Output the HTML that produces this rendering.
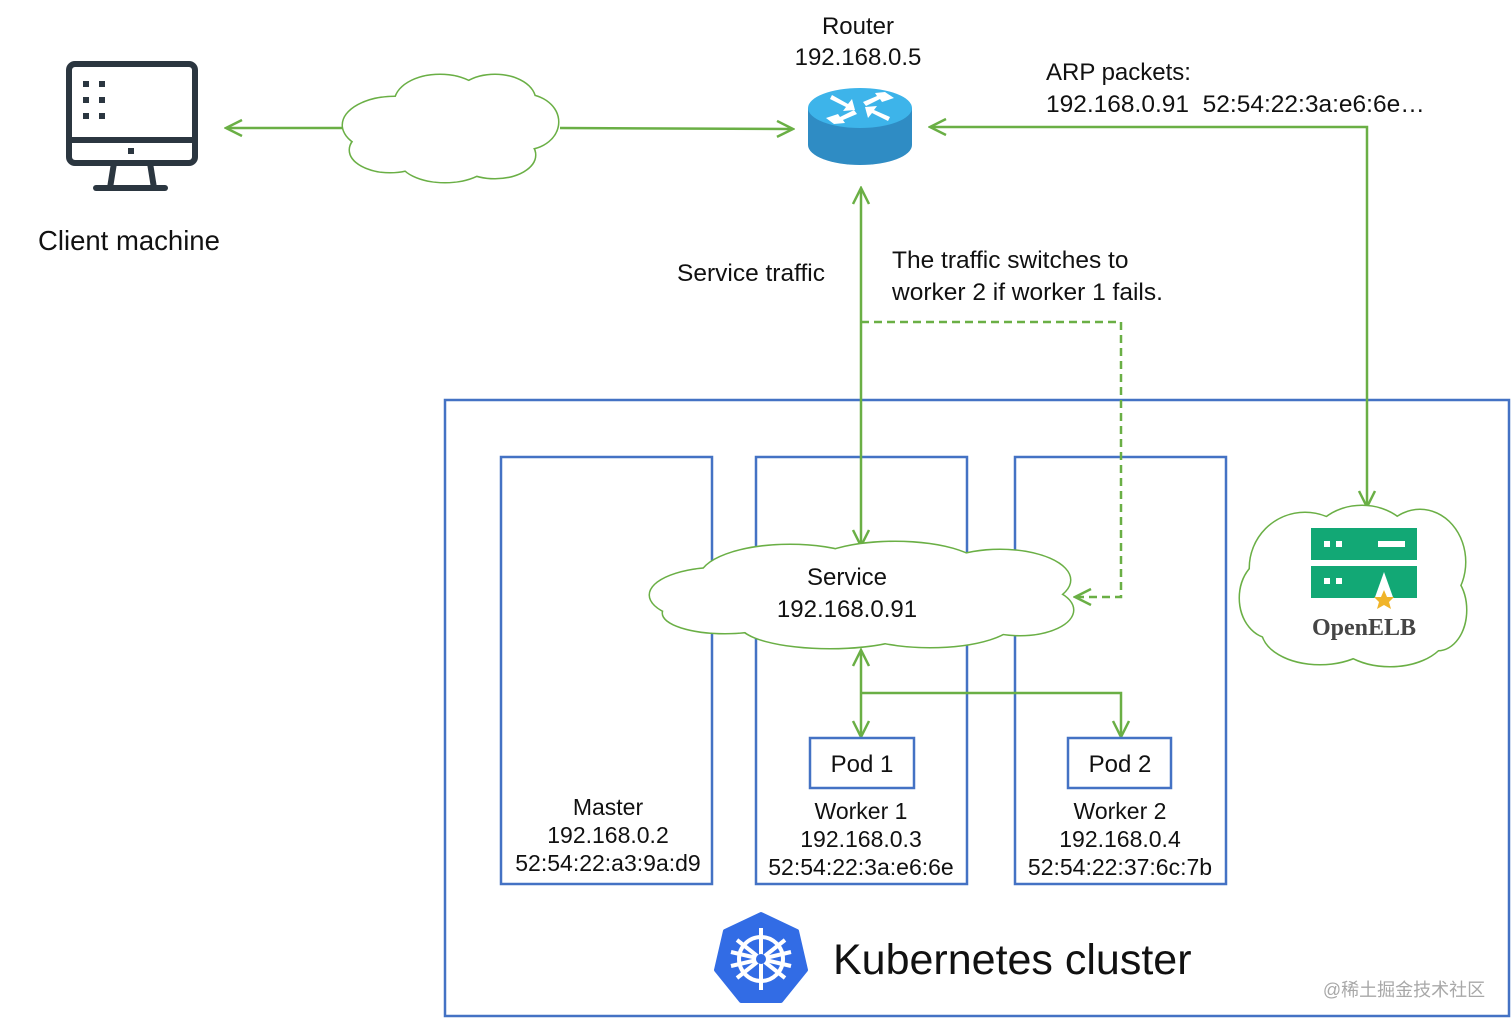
<!DOCTYPE html>
<html><head><meta charset="utf-8"><style>
html,body{margin:0;padding:0;background:#fff;}
svg{display:block;}
text{font-family:"Liberation Sans","Noto Sans CJK SC",sans-serif;fill:#111;}
</style></head><body>
<svg width="1512" height="1027" viewBox="0 0 1512 1027" xmlns="http://www.w3.org/2000/svg">
<defs>
<marker id="ah" viewBox="0 0 20 20" refX="18" refY="10" markerWidth="20" markerHeight="20" markerUnits="userSpaceOnUse" orient="auto-start-reverse">
<polyline points="2,2 18,10 2,18" fill="none" stroke="#6aaf45" stroke-width="2.5"/>
</marker>
<g id="c1">
<ellipse cx="395" cy="125" rx="52" ry="28"/><ellipse cx="440" cy="102" rx="45" ry="27"/><ellipse cx="495" cy="100" rx="40" ry="25"/><ellipse cx="525" cy="122" rx="33" ry="27"/><ellipse cx="495" cy="155" rx="40" ry="23"/><ellipse cx="445" cy="160" rx="45" ry="22"/><ellipse cx="390" cy="150" rx="40" ry="22"/>
</g>
<g id="c2">
<ellipse cx="720" cy="595" rx="70" ry="27"/><ellipse cx="790" cy="578" rx="90" ry="33"/><ellipse cx="895" cy="572" rx="90" ry="30"/><ellipse cx="1000" cy="580" rx="70" ry="30"/><ellipse cx="1020" cy="610" rx="53" ry="25"/><ellipse cx="930" cy="620" rx="85" ry="27"/><ellipse cx="830" cy="624" rx="90" ry="24"/><ellipse cx="725" cy="613" rx="62" ry="20"/>
</g>
<g id="c3">
<ellipse cx="1305" cy="568" rx="55" ry="55"/><ellipse cx="1362" cy="548" rx="52" ry="42"/><ellipse cx="1420" cy="562" rx="45" ry="52"/><ellipse cx="1438" cy="610" rx="28" ry="40"/><ellipse cx="1390" cy="630" rx="58" ry="36"/><ellipse cx="1320" cy="630" rx="58" ry="34"/><ellipse cx="1272" cy="598" rx="32" ry="40"/>
</g>
</defs>

<!-- cluster boxes -->
<rect x="445" y="400" width="1064" height="616" fill="none" stroke="#4472c4" stroke-width="2.5"/>
<rect x="501" y="457" width="211" height="427" fill="none" stroke="#4472c4" stroke-width="2.5"/>
<rect x="756" y="457" width="211" height="427" fill="none" stroke="#4472c4" stroke-width="2.5"/>
<rect x="1015" y="457" width="211" height="427" fill="none" stroke="#4472c4" stroke-width="2.5"/>

<!-- monitor -->
<g fill="none" stroke="#2b3640" stroke-width="6">
<rect x="69" y="64" width="126" height="99" rx="6"/>
<line x1="69" y1="140" x2="195" y2="140"/>
<path d="M114 163 L110 188 M150 163 L154 188"/>
<line x1="96" y1="188" x2="165" y2="188" stroke-linecap="round"/>
</g>
<g fill="#2b3640">
<rect x="83" y="81" width="6" height="6"/><rect x="99" y="81" width="6" height="6"/>
<rect x="83" y="97" width="6" height="6"/><rect x="99" y="97" width="6" height="6"/>
<rect x="83" y="113" width="6" height="6"/><rect x="99" y="113" width="6" height="6"/>
<rect x="128" y="148" width="6" height="6"/>
</g>
<text x="38" y="250" font-size="27.5">Client machine</text>

<!-- cloud 1 -->
<use href="#c1" fill="#fff" stroke="#6aaf45" stroke-width="3"/>
<use href="#c1" fill="#fff" stroke="none"/>
<ellipse cx="455" cy="128" rx="80" ry="30" fill="#fff"/>

<!-- connectors -->
<g fill="none" stroke="#6aaf45" stroke-width="2.5">
<line x1="343" y1="128" x2="226" y2="128" marker-end="url(#ah)"/>
<line x1="560" y1="128" x2="793" y2="129" marker-end="url(#ah)"/>
<polyline points="1367,507 1367,127 930,127" marker-start="url(#ah)" marker-end="url(#ah)"/>
<line x1="861" y1="188" x2="861" y2="546" marker-start="url(#ah)" marker-end="url(#ah)"/>
<polyline points="861,322 1121,322 1121,597 1075,597" stroke-dasharray="8,5" marker-end="url(#ah)"/>
<line x1="861" y1="650" x2="861" y2="737" marker-start="url(#ah)" marker-end="url(#ah)"/>
<polyline points="861,693 1121,693 1121,737" marker-end="url(#ah)"/>
</g>

<!-- router -->
<path d="M808 108 L808 145 A52 20 0 0 0 912 145 L912 108 Z" fill="#2f8cc4"/>
<ellipse cx="860" cy="108" rx="52" ry="20" fill="#3db4ea"/>
<g fill="#fff">
<polygon points="832,95 848,104 852,99 855,110 843,111 846,107 830,99"/>
<polygon points="888,121 872,113 868,118 865,107 877,106 874,110 890,117"/>
<polygon points="885,92 894,98 882,102 880,99 866,106 863,102 877,96 875,93"/>
<polygon points="834,124 826,118 838,114 840,117 854,110 857,114 843,120 845,123"/>
</g>
<text x="858" y="34" font-size="24" text-anchor="middle">Router</text>
<text x="858" y="65" font-size="24" text-anchor="middle">192.168.0.5</text>
<text x="1046" y="80" font-size="24">ARP packets:</text>
<text x="1046" y="112" font-size="24.5" xml:space="preserve">192.168.0.91  52:54:22:3a:e6:6e…</text>
<text x="677" y="281" font-size="24.5">Service traffic</text>
<text x="892" y="268" font-size="24.5">The traffic switches to</text>
<text x="892" y="300" font-size="24.5">worker 2 if worker 1 fails.</text>

<!-- service cloud -->
<use href="#c2" fill="#fff" stroke="#6aaf45" stroke-width="3"/>
<use href="#c2" fill="#fff" stroke="none"/>
<ellipse cx="862" cy="598" rx="180" ry="34" fill="#fff"/>
<text x="847" y="585" font-size="24" text-anchor="middle">Service</text>
<text x="847" y="617" font-size="24" text-anchor="middle">192.168.0.91</text>

<!-- openelb cloud -->
<use href="#c3" fill="#fff" stroke="#6aaf45" stroke-width="3"/>
<use href="#c3" fill="#fff" stroke="none"/>
<ellipse cx="1355" cy="590" rx="90" ry="55" fill="#fff"/>
<rect x="1311" y="528" width="106" height="32" fill="#12a875"/>
<rect x="1311" y="566" width="106" height="32" fill="#12a875"/>
<g fill="#fff">
<rect x="1324" y="541" width="6" height="6"/><rect x="1336" y="541" width="6" height="6"/>
<rect x="1378" y="541" width="27" height="6"/>
<rect x="1324" y="578" width="6" height="6"/><rect x="1336" y="578" width="6" height="6"/>
<polygon points="1384,572 1374,600 1394,600"/>
</g>
<polygon points="1384,590 1387,597 1394,597 1389,602 1391,609 1384,605 1377,609 1379,602 1374,597 1381,597" fill="#f0b429"/>
<text x="1364" y="635" font-size="24" font-weight="bold" text-anchor="middle" style="font-family:'Liberation Serif',serif;fill:#454545">OpenELB</text>

<!-- pods -->
<rect x="810" y="738" width="104" height="50" fill="#fff" stroke="#4472c4" stroke-width="2.5"/>
<rect x="1068" y="738" width="103" height="50" fill="#fff" stroke="#4472c4" stroke-width="2.5"/>
<text x="862" y="772" font-size="24" text-anchor="middle">Pod 1</text>
<text x="1120" y="772" font-size="24" text-anchor="middle">Pod 2</text>

<g font-size="23" text-anchor="middle">
<text x="608" y="815">Master</text>
<text x="608" y="843">192.168.0.2</text>
<text x="608" y="871">52:54:22:a3:9a:d9</text>
<text x="861" y="819">Worker 1</text>
<text x="861" y="847">192.168.0.3</text>
<text x="861" y="875">52:54:22:3a:e6:6e</text>
<text x="1120" y="819">Worker 2</text>
<text x="1120" y="847">192.168.0.4</text>
<text x="1120" y="875">52:54:22:37:6c:7b</text>
</g>

<!-- kubernetes logo -->
<polygon points="761,914 797,931 806,970 781,1001 741,1001 716,970 725,931" fill="#326ce5" stroke="#326ce5" stroke-width="4" stroke-linejoin="round"/>
<g stroke="#fff" stroke-width="4" fill="none">
<circle cx="761" cy="959" r="22"/>
<line x1="761" y1="928" x2="761" y2="990"/>
<line x1="731" y1="952" x2="791" y2="966"/>
<line x1="737" y1="978" x2="785" y2="940"/>
<line x1="737" y1="940" x2="785" y2="978"/>
<line x1="731" y1="966" x2="791" y2="952"/>
</g>
<circle cx="761" cy="959" r="5" fill="#326ce5"/>
<text x="833" y="974" font-size="43">Kubernetes cluster</text>
<text x="1404" y="996" font-size="18" text-anchor="middle" style="fill:#a8a8a8">@稀土掘金技术社区</text>
</svg>
</body></html>
